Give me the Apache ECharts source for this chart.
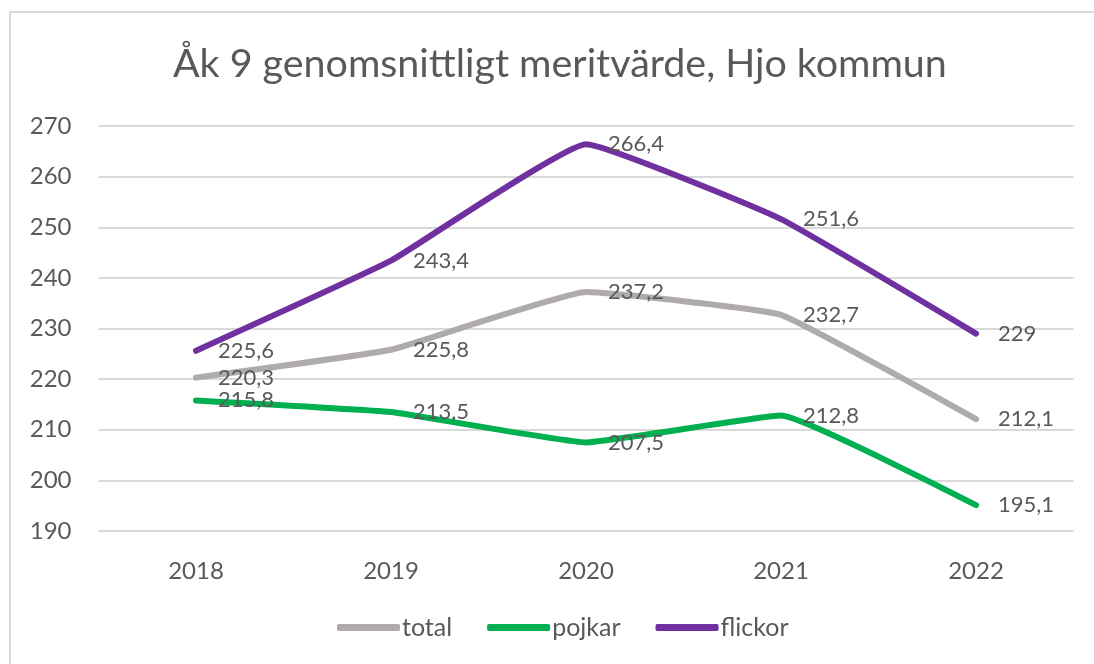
<!DOCTYPE html>
<html>
<head>
<meta charset="utf-8">
<script src="https://cdn.jsdelivr.net/npm/echarts@6/dist/echarts.min.js"></script>
<style>
html,body{margin:0;padding:0;background:#fff;}
#main{width:1094px;height:664px;}
</style>
</head>
<body>
<div id="main"></div>
<script>
var years = ['2018', '2019', '2020', '2021', '2022'];
var total = [220.3, 225.8, 237.2, 232.7, 212.1];
var pojkar = [215.8, 213.5, 207.5, 212.8, 195.1];
var flickor = [225.6, 243.4, 266.4, 251.6, 229];

var txt = '#595959';
var font = 'Lato';

function fmt(p) {
    return String(p.value).replace('.', ',');
}

function mkSeries(name, data, color) {
    return {
        name: name,
        type: 'line',
        data: data,
        smooth: 0.1,
        symbol: 'circle',
        symbolSize: 2,
        showSymbol: true,
        itemStyle: {color: color},
        lineStyle: {color: color, width: 6, cap: 'round'},
        label: {
            show: true,
            position: 'right',
            distance: 21,
            formatter: fmt,
            color: txt,
            fontFamily: font,
            fontSize: 22
        },
        emphasis: {disabled: true}
    };
}

var chart = echarts.init(document.getElementById('main'));
chart.setOption({
    animation: false,
    title: {
        text: 'Åk 9 genomsnittligt meritvärde, Hjo kommun',
        left: 168,
        top: 40,
        textStyle: {color: txt, fontFamily: font, fontSize: 39.4, fontWeight: 'normal'}
    },
    graphic: [{
        type: 'rect',
        shape: {x: 10, y: 12, width: 1200, height: 800},
        style: {fill: 'none', stroke: '#d9d9d9', lineWidth: 2},
        silent: true
    }],
    legend: {
        bottom: 19,
        left: 332,
        itemWidth: 63,
        itemHeight: 7,
        itemGap: 35,
        icon: 'roundRect',
        textStyle: {color: txt, fontFamily: font, fontSize: 25, padding: [0, 0, 0, -3]},
        data: ['total', 'pojkar', 'flickor']
    },
    grid: {left: 98.5, right: 20.5, top: 126, bottom: 133},
    xAxis: {
        type: 'category',
        data: years,
        axisLine: {show: false},
        axisTick: {show: false},
        axisLabel: {color: txt, fontFamily: font, fontSize: 24, margin: 28}
    },
    yAxis: {
        type: 'value',
        min: 190,
        max: 270,
        interval: 10,
        axisLine: {show: false},
        axisTick: {show: false},
        axisLabel: {color: txt, fontFamily: font, fontSize: 24, margin: 27},
        splitLine: {lineStyle: {color: '#d9d9d9', width: 2}}
    },
    series: [
        mkSeries('total', total, '#afabab'),
        mkSeries('pojkar', pojkar, '#00b050'),
        mkSeries('flickor', flickor, '#7030a0')
    ]
});
</script>
</body>
</html>
